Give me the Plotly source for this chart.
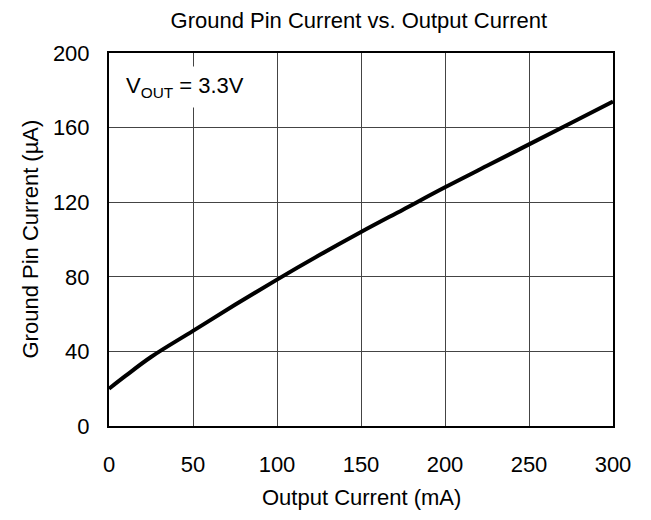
import plotly.graph_objects as go

output_current_mA = [0, 10, 25, 50, 75, 100, 125, 150, 175, 200, 225, 250, 275, 300]
ground_current_uA = [20, 27, 37, 51, 65, 78.5, 91.5, 104, 116, 128, 139.5, 151, 162.5, 174]

x_ticks = [0, 50, 100, 150, 200, 250, 300]
y_ticks = [0, 40, 80, 120, 160, 200]

fig = go.Figure()
fig.add_trace(go.Scatter(x=output_current_mA, y=ground_current_uA, mode="lines",
                         line=dict(color="black", width=4, shape="spline"),
                         showlegend=False))

font = dict(family="Liberation Sans, Arial, sans-serif", color="black")

fig.update_layout(
    width=651, height=520,
    margin=dict(l=101, r=46, t=45, b=102),
    paper_bgcolor="white", plot_bgcolor="white",
    title=dict(text="Ground Pin Current vs. Output Current", x=0.539, xanchor="center",
               xref="container", y=0.976, yanchor="middle", automargin=False,
               font=dict(size=22, **font)),
    xaxis=dict(range=[0, 300], tickvals=x_ticks, showgrid=True, gridcolor="#444444",
               gridwidth=1, showline=True, linecolor="black", linewidth=2, mirror=True,
               ticks="", tickfont=dict(size=22, **font), zeroline=False,
               automargin=False, ticklabelstandoff=18),
    yaxis=dict(range=[0, 200], tickvals=y_ticks, showgrid=True, gridcolor="#444444",
               gridwidth=1, showline=True, linecolor="black", linewidth=2, mirror=True,
               ticks="", tickfont=dict(size=22, **font), zeroline=False,
               automargin=False, ticklabelstandoff=13),
    annotations=[
        dict(x=6, y=182, xref="x", yref="y", xanchor="left", yanchor="middle",
             text="V<sub>OUT</sub> = 3.3V", showarrow=False, bgcolor="white",
             borderpad=6, font=dict(size=22, **font)),
        dict(x=0.5, y=0, xref="paper", yref="paper", xanchor="center", yanchor="middle",
             yshift=-71, text="Output Current (mA)", showarrow=False,
             font=dict(size=22, **font)),
        dict(x=0, y=0.5, xref="paper", yref="paper", xanchor="center", yanchor="middle",
             xshift=-79, textangle=-90, text="Ground Pin Current (µA)", showarrow=False,
             font=dict(size=22, **font)),
    ],
)

fig.write_html("out.html")
